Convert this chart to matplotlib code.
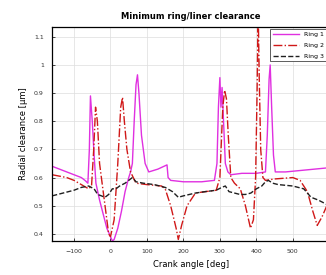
import matplotlib
matplotlib.use("Agg")
import matplotlib.pyplot as plt

# Ring 1 (magenta solid)
x1 = [-160, -140, -120, -100, -80, -70, -62, -58, -55, -50, -45, -40, -30, -20, -10, 0, 5, 10, 20, 30,
      40, 50, 55, 60, 65, 70, 74, 78, 85, 95, 105, 130, 155, 158, 165, 200, 250, 285, 292, 296,
      300, 303, 306, 310, 315, 322, 330, 360, 400, 425, 430, 435, 438, 442, 447, 452, 480, 520, 560, 600]
y1 = [0.64, 0.63, 0.62, 0.61, 0.60, 0.59, 0.58, 0.70, 0.89, 0.80, 0.68, 0.58, 0.52, 0.47, 0.42, 0.39, 0.375, 0.38, 0.42, 0.48,
      0.55, 0.60, 0.62, 0.65, 0.80, 0.93, 0.965, 0.90, 0.75, 0.65, 0.62, 0.63, 0.645, 0.60, 0.59, 0.585, 0.585, 0.59, 0.65, 0.85,
      0.955, 0.85, 0.92, 0.80, 0.65, 0.62, 0.61, 0.615, 0.615, 0.62, 0.75, 0.95, 1.0, 0.85, 0.68, 0.62, 0.62, 0.625, 0.63, 0.635]

# Ring 2 (red dash-dot)
x2 = [-160, -120, -100, -80, -60, -52, -46, -41, -36, -30, -20, -10, -5, 0, 10, 20, 28, 33, 38, 45,
      55, 70, 100, 140, 150, 165, 180, 186, 195, 210, 233, 260, 290, 300, 308, 313, 318, 323, 330, 340,
      356, 370, 384, 392, 398, 402, 405, 408, 412, 418, 425, 450, 500, 520, 540, 555, 567, 580, 600]
y2 = [0.61, 0.60, 0.59, 0.575, 0.56, 0.57, 0.70, 0.85, 0.80, 0.65, 0.55, 0.45, 0.40, 0.39, 0.45, 0.65, 0.85, 0.885, 0.80, 0.70,
      0.62, 0.58, 0.575, 0.57, 0.56, 0.50, 0.42, 0.38, 0.43, 0.50, 0.545, 0.55, 0.555, 0.60, 0.85, 0.91, 0.88, 0.75, 0.60, 0.58,
      0.56, 0.50, 0.42, 0.45, 0.60, 0.90, 1.20, 0.95, 0.70, 0.60, 0.59, 0.595, 0.60, 0.59, 0.55, 0.48, 0.43, 0.46, 0.52]

# Ring 3 (black dashed)
x3 = [-160, -130, -100, -80, -60, -45, -35, -25, -15, -5, 5, 15, 25, 40, 50, 60, 70, 90, 120, 150,
      170, 186, 200, 233, 260, 290, 305, 315, 325, 340, 355, 370, 385, 400, 415, 425, 433, 445, 460, 500,
      530, 550, 570, 600]
y3 = [0.535, 0.545, 0.555, 0.565, 0.57, 0.56, 0.54, 0.535, 0.53, 0.54, 0.56, 0.56, 0.57, 0.58, 0.59, 0.60, 0.585, 0.58, 0.575, 0.565,
      0.55, 0.53, 0.535, 0.545, 0.55, 0.555, 0.565, 0.57, 0.55, 0.545, 0.54, 0.54, 0.545, 0.56, 0.57, 0.585, 0.59, 0.58, 0.575, 0.57,
      0.56, 0.53, 0.52, 0.50]

labels = ["Ring 1", "Ring 2", "Ring 3"]
xticks = [-100, 0, 100, 200, 300, 400, 500]
yticks = [0.4, 0.5, 0.6, 0.7, 0.8, 0.9, 1.0, 1.1]
yticklabels = ["0.4", "0.5", "0.6", "0.7", "0.8", "0.9", "1", "1.1"]

fig = plt.figure(figsize=(3.26, 2.75), dpi=100)
ax = fig.add_axes([0.16, 0.124, 0.85, 0.778])

ax.plot(x1, y1, color="#e030e0", lw=1.0, ls="-", label=labels[0])
ax.plot(x2, y2, color="#d01818", lw=1.0, ls="-.", label=labels[1])
ax.plot(x3, y3, color="#202020", lw=1.0, ls="--", label=labels[2])

ax.set_xlim(-160, 600)
ax.set_ylim(0.375, 1.135)
ax.set_xticks(xticks)
ax.set_yticks(yticks)
ax.set_yticklabels(yticklabels)
ax.tick_params(labelsize=4.5, length=2, width=0.5, direction="in", pad=6, labelcolor="#333333")
ax.grid(True, color="#dddddd", lw=0.5)
for s in ax.spines.values():
    s.set_linewidth(0.9)

ax.set_title("Minimum ring/liner clearance", fontsize=6, fontweight="bold", pad=6)
ax.set_xlabel("Crank angle [deg]", fontsize=6, labelpad=4)
ax.set_ylabel("Radial clearance [μm]", fontsize=6, labelpad=4)

leg = ax.legend(loc="upper left", bbox_to_anchor=(0.787, 0.99), fontsize=4.5,
                handlelength=4.2, frameon=True, fancybox=False, borderaxespad=0,
                labelspacing=0.9, edgecolor="#444444", framealpha=1)
leg.get_frame().set_linewidth(0.6)

fig.savefig("out.png", dpi=100)
